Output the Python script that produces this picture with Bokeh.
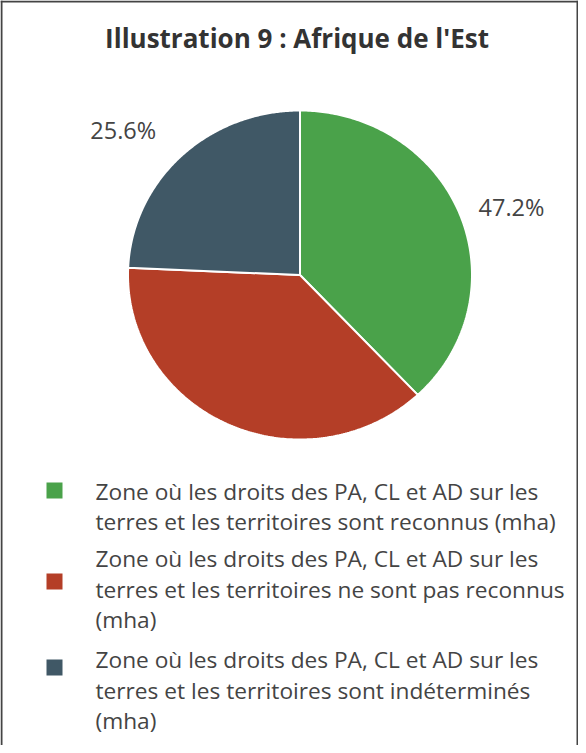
import numpy as np
from bokeh.plotting import figure
from bokeh.models import Range1d
from bokeh.core.properties import value
from bokeh.embed import file_html
from bokeh.resources import INLINE

# ---- data ----
title = "Illustration 9 : Afrique de l'Est"
categories = [
    "Zone où les droits des PA, CL et AD sur les\nterres et les territoires sont reconnus (mha)",
    "Zone où les droits des PA, CL et AD sur les\nterres et les territoires ne sont pas reconnus\n(mha)",
    "Zone où les droits des PA, CL et AD sur les\nterres et les territoires sont indéterminés\n(mha)",
]
shares = [38.0, 37.7, 24.3]          # slice sizes
data_labels = ["47.2%", "", "25.6%"]  # labels as printed on the chart
colors = ["#4aa24a", "#b43e27", "#405866"]

# ---- layout ----
W, H = 578, 745
FONT = "Open Sans"
TXT = "#444444"
label_distance = [20, 20, 36]

def Y(sy):  # window y (px) -> data y
    return H - (sy - 8)

def X(sx):
    return sx - 8

p = figure(width=W, height=H, output_backend="svg", toolbar_location=None,
           x_range=Range1d(0, W), y_range=Range1d(0, H), min_border=0)
p.axis.visible = False
p.grid.visible = False
p.outline_line_color = None
p.background_fill_color = "white"

# frame (left, top, right)
p.multi_line(xs=[[1, 1], [0, W], [W - 1, W - 1]], ys=[[0, H], [H - 1, H - 1], [0, H]],
             line_color="#444444", line_width=2)

# title
p.text(x=[X(304.5)], y=[Y(45)], text=[title], text_font=value(FONT), text_font_style="bold",
       text_font_size="26px", text_color="#333333", text_align="center", text_baseline="middle")

# pie (slightly elliptical as in the picture)
cx, cy, rx, ry = X(307.5), Y(282.5), 172.0, 164.5
vals = np.array(shares, dtype=float)
ends = np.cumsum(vals) / vals.sum() * 2 * np.pi
starts = np.concatenate([[0.0], ends[:-1]])
xs, ys = [], []
for a0, a1 in zip(starts, ends):
    t = np.linspace(a0, a1, 200)
    xs.append(np.concatenate([[cx], cx + rx * np.sin(t), [cx]]))
    ys.append(np.concatenate([[cy], cy + ry * np.cos(t), [cy]]))
p.patches(xs=xs, ys=ys, fill_color=colors, line_color="white", line_width=2)

# data labels
mid = (starts + ends) / 2
lx, ly, lt, la = [], [], [], []
for m, t, d in zip(mid, data_labels, label_distance):
    if not t:
        continue
    s = np.sin(m)
    lx.append(cx + (rx + d) * s)
    ly.append(cy + (ry + d) * np.cos(m))
    lt.append(t)
    la.append("left" if s >= 0 else "right")
p.text(x=lx, y=ly, text=lt, text_font=value(FONT), text_font_size="23.5px", text_color=TXT,
       text_align=la, text_baseline="middle")

# legend
first_line_centers = [498.5, 566, 667]
sq_centers = [498, 589, 675]
line_gap = 30.5
for lab, c, fc, sc in zip(categories, colors, first_line_centers, sq_centers):
    p.rect(x=[X(62)], y=[Y(sc)], width=16, height=16, fill_color=c, line_color=None)
    lines = lab.split("\n")
    p.text(x=[X(103)] * len(lines), y=[Y(fc + i * line_gap) for i in range(len(lines))],
           text=lines, text_font=value(FONT), text_font_size="22.7px", text_color=TXT,
           text_align="left", text_baseline="middle")

open("out.html", "w").write(file_html(p, INLINE))
